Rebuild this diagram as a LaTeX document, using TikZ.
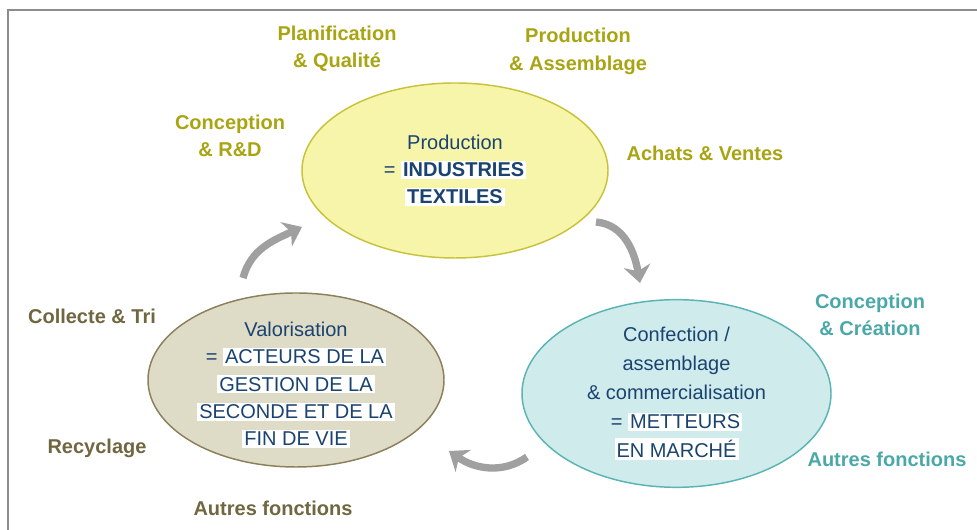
\documentclass[tikz,border=0pt]{standalone}
\usepackage{fontspec}
\setmainfont{Liberation Sans}
\usepackage{tikz}
\usetikzlibrary{shapes.geometric, arrows.meta, positioning}
\usepackage{xcolor}
\definecolor{txtBlue}{RGB}{26,67,112}
\definecolor{yelTxt}{RGB}{168,164,18}
\definecolor{brnTxt}{RGB}{112,102,64}
\definecolor{tealTxt}{RGB}{74,169,168}
\definecolor{prodFill}{RGB}{247,245,170}
\definecolor{prodLine}{RGB}{200,195,60}
\definecolor{valoFill}{RGB}{222,219,198}
\definecolor{valoLine}{RGB}{140,128,90}
\definecolor{confFill}{RGB}{208,235,236}
\definecolor{confLine}{RGB}{90,180,180}
\definecolor{arrGray}{RGB}{160,160,160}
\definecolor{frameGray}{RGB}{140,140,140}
\newcommand{\wbox}[1]{{\setlength{\fboxsep}{1.5pt}\colorbox{white}{#1}}}

\begin{document}
\begin{tikzpicture}[x=0.75pt, y=0.75pt, every node/.style={font=\fontsize{15}{20.5}\selectfont, align=center}, cell/.style={ellipse, draw, line width=1.1pt, text=txtBlue, inner sep=0pt}, lab/.style={font=\fontsize{15}{20.5}\selectfont\bfseries}, cyc/.style={draw=arrGray, line width=5.5pt, -{Stealth[length=13pt,width=20pt,inset=4pt]}}]
\useasboundingbox (0,0) rectangle (977,530);
\draw[frameGray, line width=1.5pt] (8,0) -- (8,520) -- (977,520);
\node[cell, fill=prodFill, draw=prodLine, minimum width=229.5pt, minimum height=131.25pt] (prod) at (455,359.5) {Production\\= \wbox{\textbf{INDUSTRIES}}\\\wbox{\textbf{TEXTILES}}};
\node[cell, fill=valoFill, draw=valoLine, minimum width=222pt, minimum height=130.5pt] (valo) at (296,150) {};
\node[text=txtBlue] (valoTxt) at (296,145) {Valorisation\\= \wbox{ACTEURS DE LA}\\\wbox{GESTION DE LA}\\\wbox{SECONDE ET DE LA}\\\wbox{FIN DE VIE}};
\node[cell, fill=confFill, draw=confLine, minimum width=231.75pt, minimum height=140.25pt, font=\fontsize{15}{21.75}\selectfont] (conf) at (676.5,136.5) {Confection /\\assemblage\\\& commercialisation\\= \wbox{METTEURS}\\\wbox{EN MARCHÉ}};
\node[lab, text=yelTxt] (plan) at (337,481.5) {Planification\\\& Qualité};
\node[lab, text=yelTxt] (assem) at (578,478.5) {Production\\\& Assemblage};
\node[lab, text=yelTxt] (rd) at (230,394) {Conception\\\& R\&D};
\node[lab, text=yelTxt] (achat) at (705,377) {Achats \& Ventes};
\node[lab, text=brnTxt] (tri) at (92,214) {Collecte \& Tri};
\node[lab, text=brnTxt] (recy) at (97,82) {Recyclage};
\node[lab, text=brnTxt] (autre1) at (273,22) {Autres fonctions};
\node[lab, text=tealTxt] (creat) at (870,215) {Conception\\\& Création};
\node[lab, text=tealTxt] (autre2) at (887,71) {Autres fonctions};
\coordinate (a1) at (243,252);
\coordinate (b1) at (302,303);
\coordinate (a2) at (596,308);
\coordinate (b2) at (640,247);
\coordinate (a3) at (527,73);
\coordinate (b3) at (449,79);
\draw[cyc] (a1) to[out=75,in=205] (b1);
\draw[cyc] (a2) to[out=-5,in=100] (b2);
\draw[cyc] (a3) to[out=215,in=-35] (b3);
\end{tikzpicture}
\end{document}
